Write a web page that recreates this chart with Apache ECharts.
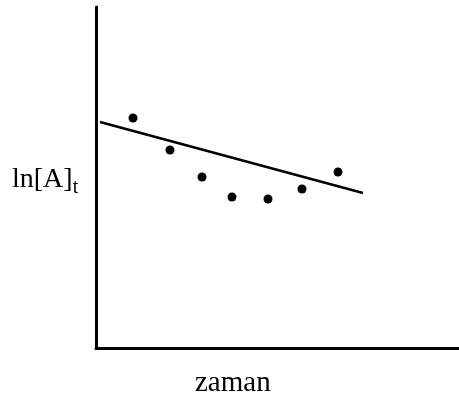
<!DOCTYPE html>
<html>
<head>
<meta charset="utf-8">
<script src="https://cdn.jsdelivr.net/npm/echarts@6/dist/echarts.min.js"></script>
<style>html,body{margin:0;padding:0;background:#fff}#c{width:459px;height:399px}</style>
</head>
<body>
<div id="c"></div>
<script>
// data (arbitrary units: time vs ln[A]t)
var pointsX = [37, 74, 106, 136, 172, 206, 242];
var pointsY = [230, 198, 171, 151, 149, 159, 176];
var fitX = [4, 267];
var fitY = [226, 155];
var xLabel = 'zaman';
var yLabel = 'ln[A]';
var ySub = 't';

var chart = echarts.init(document.getElementById('c'), null, {renderer: 'canvas'});
var font = '"Liberation Serif", "Times New Roman", serif';
chart.setOption({
  animation: false,
  backgroundColor: '#fff',
  grid: {left: 96, right: 0, top: 7, bottom: 51},
  xAxis: {
    type: 'value', min: 0, max: 363,
    axisLine: {show: true, onZero: false, lineStyle: {color: '#000', width: 3}},
    axisTick: {show: false}, axisLabel: {show: false}, splitLine: {show: false}
  },
  yAxis: {
    type: 'value', min: 0, max: 341,
    axisLine: {show: true, onZero: false, lineStyle: {color: '#000', width: 3}},
    axisTick: {show: false}, axisLabel: {show: false}, splitLine: {show: false}
  },
  series: [
    {
      type: 'line',
      data: fitX.map(function (x, i) { return [x, fitY[i]]; }),
      showSymbol: false, symbol: 'none',
      lineStyle: {color: '#000', width: 2.5}
    },
    {
      type: 'scatter',
      data: pointsX.map(function (x, i) { return [x, pointsY[i]]; }),
      symbol: 'circle', symbolSize: 9,
      itemStyle: {color: '#000', opacity: 1}
    }
  ],
  graphic: [
    {
      type: 'text', left: 195, top: 369,
      style: {text: xLabel, font: '29px ' + font, fill: '#000'}
    },
    {
      type: 'text', left: 12, top: 166,
      style: {
        text: '{a|' + yLabel + '}{b|' + ySub + '}',
        rich: {
          a: {fontFamily: font, fontSize: 28, fill: '#000', color: '#000'},
          b: {fontFamily: font, fontSize: 20, fill: '#000', color: '#000', padding: [16, 0, 0, 0]}
        }
      }
    }
  ]
});
</script>
</body>
</html>
